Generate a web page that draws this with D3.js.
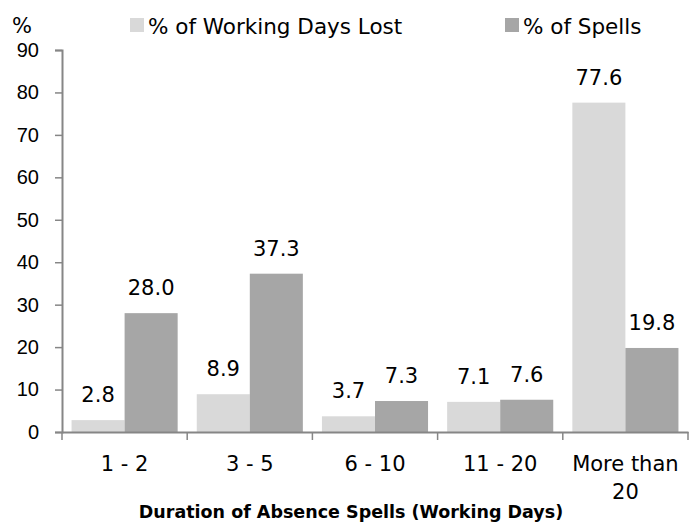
<!DOCTYPE html>
<html>
<head>
<meta charset="utf-8">
<script src="https://cdn.jsdelivr.net/npm/d3@7"></script>
<style>
  body { margin: 0; background: #fff; }
  svg { font-family: "DejaVu Sans", sans-serif; }
</style>
</head>
<body>
<div id="chart"></div>
<script>
const categories = [["1 - 2"], ["3 - 5"], ["6 - 10"], ["11 - 20"], ["More than", "20"]];
const seriesNames = ["% of Working Days Lost", "% of Spells"];
const daysLost = [2.8, 8.9, 3.7, 7.1, 77.6];
const spells = [28.0, 37.3, 7.3, 7.6, 19.8];
const yTicks = [0, 10, 20, 30, 40, 50, 60, 70, 80, 90];
const colors = ["#d9d9d9", "#a6a6a6"];

const width = 691, height = 527;
const margin = { left: 62, right: 3, top: 50, bottom: 95 };

const svg = d3.select('#chart').append('svg')
    .attr('width', width)
    .attr('height', height);

const x = d3.scaleBand()
    .domain(d3.range(categories.length))
    .range([margin.left, width - margin.right]);

// two bars per group, gap on both sides
const x1 = d3.scaleBand()
    .domain([0, 1])
    .range([0, x.bandwidth()])
    .paddingOuter(0.18)
    .paddingInner(0);

const y = d3.scaleLinear()
    .domain([0, 90])
    .range([height - margin.bottom, margin.top]);

const series = [daysLost, spells];

series.forEach((vals, s) => {
    svg.append('g').selectAll('rect')
        .data(vals)
        .join('rect')
        .attr('x', (d, i) => x(i) + x1(s))
        .attr('y', d => y(d))
        .attr('width', x1.bandwidth())
        .attr('height', d => y(0) - y(d))
        .attr('fill', colors[s]);

    svg.append('g').selectAll('text')
        .data(vals)
        .join('text')
        .attr('x', (d, i) => x(i) + x1(s) + x1.bandwidth() / 2)
        .attr('y', d => y(d) - 18)
        .attr('text-anchor', 'middle')
        .attr('font-size', 21)
        .attr('fill', '#000')
        .text(d => d.toFixed(1));
});

// y axis
const yAxis = svg.append('g')
    .attr('transform', `translate(${margin.left},0)`)
    .call(d3.axisLeft(y).tickValues(yTicks).tickSize(7).tickPadding(16));
yAxis.selectAll('text').attr('font-size', 20).attr('fill', '#000').attr('font-family', 'inherit');
yAxis.selectAll('line').attr('stroke', '#868686').attr('stroke-width', 1.5);
yAxis.select('.domain').attr('stroke', '#868686').attr('stroke-width', 2);

// x axis with separators between groups
const xAxis = svg.append('g')
    .attr('transform', `translate(0,${y(0)})`)
    .call(d3.axisBottom(x).tickValues([]).tickSizeOuter(0));
xAxis.select('.domain').attr('stroke', '#868686').attr('stroke-width', 2);
const tickPos = d3.range(categories.length + 1).map(i => margin.left + i * x.step());
xAxis.selectAll('.sep')
    .data(tickPos)
    .join('line')
    .attr('x1', d => d).attr('x2', d => d)
    .attr('y1', 0).attr('y2', 8)
    .attr('stroke', '#868686')
    .attr('stroke-width', 1.5);

// category labels
const cat = svg.append('g').selectAll('text')
    .data(categories)
    .join('text')
    .attr('text-anchor', 'middle')
    .attr('font-size', 21)
    .attr('fill', '#000');
cat.each(function (lines, i) {
    d3.select(this).selectAll('tspan')
        .data(lines)
        .join('tspan')
        .attr('x', x(i) + x.bandwidth() / 2)
        .attr('y', (d, j) => 471 + j * 28)
        .text(d => d);
});

// axis titles
svg.append('text')
    .attr('x', 351)
    .attr('y', 518)
    .attr('text-anchor', 'middle')
    .attr('font-size', 17.5)
    .attr('font-weight', 'bold')
    .text('Duration of Absence Spells (Working Days)');

svg.append('text')
    .attr('x', 12)
    .attr('y', 33)
    .attr('font-size', 21)
    .text('%');

// legend
const legendX = [130, 505];
seriesNames.forEach((name, s) => {
    svg.append('rect')
        .attr('x', legendX[s])
        .attr('y', 18)
        .attr('width', 14)
        .attr('height', 14)
        .attr('fill', colors[s]);
    svg.append('text')
        .attr('x', legendX[s] + 18)
        .attr('y', 34)
        .attr('font-size', 21.5)
        .text(name);
});
</script>
</body>
</html>
